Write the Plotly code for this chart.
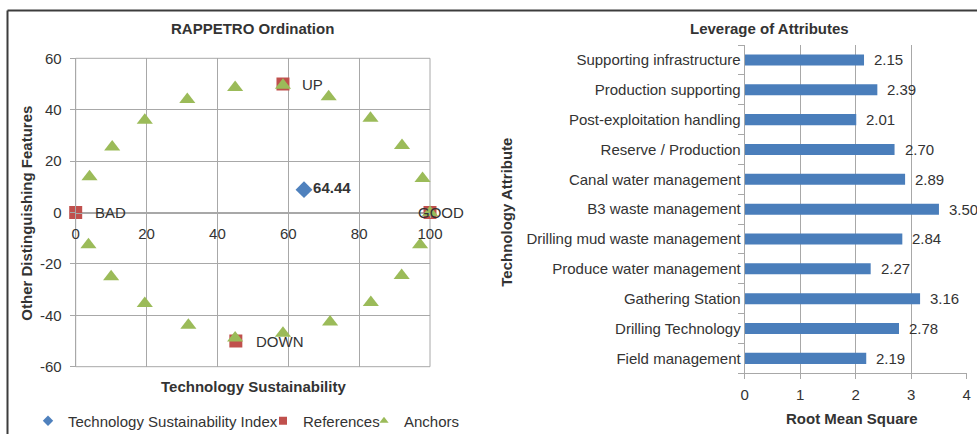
import plotly.graph_objects as go

W, H = 977, 434

# ---------------- Left chart data: RAPPETRO Ordination ----------------
index_name = "Technology Sustainability Index"
index_x = [64.44]
index_y = [8.9]
index_label = ["64.44"]

ref_names = ["BAD", "GOOD", "UP", "DOWN"]
ref_x = [0, 100, 58.5, 45.2]
ref_y = [0, 0, 50, -50]

anchor_x = [3.9, 10.3, 19.5, 31.5, 45.0, 58.5, 71.4, 83.2, 92.1, 97.9, 100.0,
            97.2, 92.0, 83.3, 71.8, 58.5, 45.0, 31.8, 19.5, 10.0, 3.6]
anchor_y = [13.9, 25.5, 35.9, 44.0, 48.6, 49.5, 45.0, 36.7, 26.1, 13.2, 0.0,
            -12.5, -24.5, -35.0, -42.6, -47.0, -48.8, -43.9, -35.4, -25.0, -12.5]

x_ticks = [0, 20, 40, 60, 80, 100]
y_ticks = [-60, -40, -20, 0, 20, 40, 60]

# ---------------- Right chart data: Leverage of Attributes ----------------
attributes = ["Field management", "Drilling Technology", "Gathering Station",
              "Produce water management", "Drilling mud waste management",
              "B3 waste management", "Canal water management",
              "Reserve / Production", "Post-exploitation handling",
              "Production supporting", "Supporting infrastructure"]
rms = [2.19, 2.78, 3.16, 2.27, 2.84, 3.50, 2.89, 2.70, 2.01, 2.39, 2.15]
rms_ticks = [0, 1, 2, 3, 4]

# ---------------- Styles ----------------
FONT = "Liberation Sans, Arial, sans-serif"
FS = 15
TXT = "#333333"
GRID = "#A8A8A8"
BLUE = "#4F81BD"
RED = "#C0504D"
GREEN = "#9BBB59"
BAR = "#4A7EBB"


def px_x(p):
    return p / W


def px_y(p):
    return 1 - p / H


L_dom_x = [px_x(75.7), px_x(430.0)]
L_dom_y = [px_y(366.7), px_y(58.3)]
R_dom_x = [px_x(744.7), px_x(966.7)]
R_dom_y = [px_y(373.3), px_y(45.0)]

fig = go.Figure()

fig.add_trace(go.Scatter(
    x=index_x, y=index_y, mode="markers+text", text=index_label,
    textposition="middle right",
    textfont=dict(family=FONT, size=FS, color=TXT, weight="bold"),
    marker=dict(symbol="diamond", size=13, color=BLUE),
    name=index_name, showlegend=False, xaxis="x", yaxis="y", cliponaxis=False))

fig.add_trace(go.Scatter(
    x=ref_x, y=ref_y, mode="markers",
    marker=dict(symbol="square", size=13, color=RED),
    name="References", showlegend=False, xaxis="x", yaxis="y", cliponaxis=False))

fig.add_trace(go.Scatter(
    x=anchor_x, y=anchor_y, mode="markers",
    marker=dict(symbol="triangle-up", size=14, color=GREEN),
    name="Anchors", showlegend=False, xaxis="x", yaxis="y", cliponaxis=False))

# legend entries (small symbols, like the original legend keys)
for nm, sym, col, lg in [(index_name, "diamond", BLUE, "legend"),
                         ("References", "square", RED, "legend2"),
                         ("Anchors", "triangle-up", GREEN, "legend3")]:
    fig.add_trace(go.Scatter(x=[None], y=[None], mode="markers", name=nm,
                             marker=dict(symbol=sym, size=8, color=col),
                             legend=lg, xaxis="x", yaxis="y"))

fig.add_trace(go.Bar(
    x=rms, y=attributes, orientation="h", width=0.37,
    marker=dict(color=BAR, line=dict(width=0)),
    showlegend=False, xaxis="x2", yaxis="y2"))

annotations = []
# reference labels
ref_shift = [17, -14, 17, 18]
for n, xv, yv, s in zip(ref_names, ref_x, ref_y, ref_shift):
    annotations.append(dict(x=xv, y=yv, xref="x", yref="y", text=n, showarrow=False,
                            xanchor="left", yanchor="middle", xshift=s,
                            font=dict(family=FONT, size=FS, color=TXT)))
# bar labels
for a, v in zip(attributes, rms):
    annotations.append(dict(x=v, y=a, xref="x2", yref="y2", text=f"{v:.2f}",
                            showarrow=False, xanchor="left", yanchor="middle",
                            xshift=8, font=dict(family=FONT, size=FS, color=TXT)))

# titles
title_font = dict(family=FONT, size=FS, color=TXT, weight="bold")
annotations += [
    dict(text="RAPPETRO Ordination", x=px_x(252.7), y=px_y(29), xref="paper", yref="paper",
         showarrow=False, xanchor="center", yanchor="middle", font=title_font),
    dict(text="Leverage of Attributes", x=px_x(769.3), y=px_y(29), xref="paper", yref="paper",
         showarrow=False, xanchor="center", yanchor="middle", font=title_font),
    dict(text="Technology Sustainability", x=px_x(253), y=px_y(386), xref="paper", yref="paper",
         showarrow=False, xanchor="center", yanchor="middle", font=title_font),
    dict(text="Other Distinguishing Features", x=px_x(25.7), y=px_y(213), xref="paper",
         yref="paper", showarrow=False, textangle=-90, xanchor="center", yanchor="middle",
         font=title_font),
    dict(text="Root Mean Square", x=px_x(851.7), y=px_y(418), xref="paper", yref="paper",
         showarrow=False, xanchor="center", yanchor="middle", font=title_font),
    dict(text="Technology Attribute", x=px_x(505.7), y=px_y(212), xref="paper", yref="paper",
         showarrow=False, textangle=-90, xanchor="center", yanchor="middle", font=title_font),
]

shapes = [
    # left plot area border (grid coloured)
    dict(type="rect", xref="x domain", yref="y domain", x0=0, x1=1, y0=0, y1=1,
         line=dict(color=GRID, width=1), layer="below"),
    # outer chart borders (cropped screenshot frame)
    dict(type="line", xref="paper", yref="paper", x0=px_x(7.5), x1=1, y0=px_y(10.5),
         y1=px_y(10.5), line=dict(color="#3C3C3C", width=2)),
    dict(type="line", xref="paper", yref="paper", x0=px_x(7.5), x1=px_x(7.5), y0=0,
         y1=px_y(10.5), line=dict(color="#3C3C3C", width=2)),
]

tick_font = dict(family=FONT, size=FS, color=TXT)
legend_common = dict(orientation="h", yanchor="middle", xanchor="left",
                     bgcolor="rgba(0,0,0,0)", font=dict(family=FONT, size=FS, color=TXT),
                     itemwidth=30, y=px_y(421))

fig.update_layout(
    width=W, height=H, autosize=False,
    margin=dict(l=0, r=0, t=0, b=0, pad=0, autoexpand=False),
    paper_bgcolor="white", plot_bgcolor="white",
    font=dict(family=FONT, size=FS, color=TXT),
    xaxis=dict(domain=L_dom_x, range=[0, 100], tickvals=x_ticks,
               ticktext=[str(v) for v in x_ticks], anchor="free",
               position=(L_dom_y[0] + L_dom_y[1]) / 2, showgrid=True, gridcolor=GRID,
               showline=True, linecolor=GRID, ticks="outside", ticklen=4, tickcolor=GRID,
               zeroline=False, tickfont=tick_font, ticklabelstandoff=3),
    yaxis=dict(domain=L_dom_y, range=[-60, 60], tickvals=y_ticks,
               ticktext=[str(v) for v in y_ticks], anchor="x",
               showgrid=True, gridcolor=GRID, showline=True, linecolor=GRID,
               ticks="outside", ticklen=5, tickcolor=GRID, zeroline=False,
               tickfont=tick_font, ticklabelstandoff=5),
    xaxis2=dict(domain=R_dom_x, range=[0, 4], tickvals=rms_ticks,
                ticktext=[str(v) for v in rms_ticks], anchor="y2",
                showgrid=True, gridcolor=GRID, showline=True, linecolor=GRID,
                ticks="outside", ticklen=5, tickcolor=GRID, zeroline=False,
                tickfont=tick_font, ticklabelstandoff=3),
    yaxis2=dict(domain=R_dom_y, type="category", categoryorder="array",
                categoryarray=attributes, range=[-0.5, len(attributes) - 0.5],
                anchor="x2", showgrid=False, showline=True, linecolor=GRID,
                ticks="outside", tickson="boundaries", ticklen=6, tickcolor=GRID,
                tickfont=tick_font),
    legend=dict(x=px_x(28), **legend_common),
    legend2=dict(x=px_x(263), **legend_common),
    legend3=dict(x=px_x(364), **legend_common),
    annotations=annotations,
    shapes=shapes,
)

fig.write_html("out.html", config={"displayModeBar": False},
               post_script="document.body.style.margin='0';document.body.style.overflow='hidden';")
